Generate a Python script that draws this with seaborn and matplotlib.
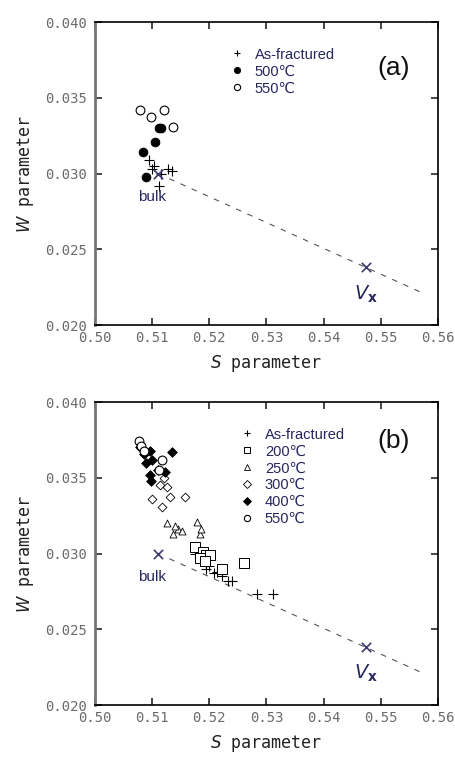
import numpy as np
import pandas as pd
import matplotlib
matplotlib.use("Agg")
import matplotlib.pyplot as plt
from matplotlib.lines import Line2D
import seaborn as sns

# --- panel (a) data: S and W parameters ---
a_asfrac_s = [0.5095, 0.5103, 0.5115, 0.5128, 0.5135, 0.5112, 0.5100]
a_asfrac_w = [0.0309, 0.0305, 0.0300, 0.0303, 0.0302, 0.0292, 0.0303]
a_500_s = [0.5112, 0.5115, 0.5105, 0.5084, 0.5089]
a_500_w = [0.0330, 0.0330, 0.0321, 0.0314, 0.0298]
a_550_s = [0.5079, 0.5098, 0.5121, 0.5137]
a_550_w = [0.0342, 0.0337, 0.0342, 0.0331]

# --- panel (b) data ---
b_asfrac_s = [0.5175, 0.5185, 0.5195, 0.5200, 0.5208, 0.5213, 0.5223, 0.5232, 0.5240, 0.5284, 0.5312]
b_asfrac_w = [0.0300, 0.0295, 0.0290, 0.0292, 0.0287, 0.0288, 0.0285, 0.0282, 0.0282, 0.0273, 0.0273]
b_200_s = [0.5175, 0.5189, 0.5195, 0.5202, 0.5183, 0.5223, 0.5260, 0.5192]
b_200_w = [0.0304, 0.0301, 0.0299, 0.0299, 0.0297, 0.0290, 0.0294, 0.0295]
b_250_s = [0.5126, 0.5137, 0.5145, 0.5152, 0.5179, 0.5183, 0.5186, 0.5140]
b_250_w = [0.0320, 0.0313, 0.0316, 0.0315, 0.0321, 0.0313, 0.0316, 0.0318]
b_300_s = [0.5100, 0.5118, 0.5158, 0.5114, 0.5126, 0.5132, 0.5120]
b_300_w = [0.0336, 0.0331, 0.0337, 0.0345, 0.0344, 0.0337, 0.0350]
b_400_s = [0.5079, 0.5086, 0.5096, 0.5100, 0.5135, 0.5096, 0.5111, 0.5123, 0.5098, 0.5090]
b_400_w = [0.0370, 0.0366, 0.0368, 0.0362, 0.0367, 0.0352, 0.0355, 0.0354, 0.0348, 0.0360]
b_550_s = [0.5077, 0.5080, 0.5085, 0.5118, 0.5112]
b_550_w = [0.0374, 0.0371, 0.0368, 0.0362, 0.0355]

# reference points
bulk = (0.511, 0.0300)
vx = (0.5474, 0.0238)
line_end_s = 0.557

x_ticks = [0.50, 0.51, 0.52, 0.53, 0.54, 0.55, 0.56]
y_ticks = [0.020, 0.025, 0.030, 0.035, 0.040]

navy = "#262660"
tick_gray = "#6a6a6a"

sns.set_style("white")
plt.rcParams["font.family"] = ["Liberation Sans", "DejaVu Sans"]

# marker styles per series: (marker, size, facecolor, linewidth)
styles = {
    "As-fractured": ("+", 55, "black", 0.8),
    "500℃": ("o", 40, "black", 0.6),
    "550℃": ("o", 40, "white", 0.8),
    "200℃": ("s", 50, "white", 0.7),
    "250℃": ("^", 25, "white", 0.6),
    "300℃": ("D", 20, "white", 0.6),
    "400℃": ("D", 24, "black", 0.6),
}

panel_a = [("As-fractured", a_asfrac_s, a_asfrac_w),
           ("500℃", a_500_s, a_500_w),
           ("550℃", a_550_s, a_550_w)]
panel_b = [("As-fractured", b_asfrac_s, b_asfrac_w),
           ("200℃", b_200_s, b_200_w),
           ("250℃", b_250_s, b_250_w),
           ("300℃", b_300_s, b_300_w),
           ("400℃", b_400_s, b_400_w),
           ("550℃", b_550_s, b_550_w)]

fig = plt.figure(figsize=(4.55, 7.58), dpi=100)
ax_a = fig.add_axes([0.2088, 0.5712, 0.7538, 0.3997])
ax_b = fig.add_axes([0.2088, 0.0699, 0.7538, 0.3997])


def draw_panel(ax, series, label, legend_xy, label_xy):
    # dashed line from bulk through Vx
    slope = (vx[1] - bulk[1]) / (vx[0] - bulk[0])
    ls = np.array([bulk[0] + 0.002, line_end_s])
    ax.plot(ls, bulk[1] + slope * (ls - bulk[0]), ls=(0, (5, 6)),
            color="#555555", lw=0.8, zorder=1)

    handles = []
    for name, s, w in series:
        mk, size, fc, lw = styles[name]
        df = pd.DataFrame({"S": s, "W": w})
        if mk == "+":
            sns.scatterplot(data=df, x="S", y="W", ax=ax, marker="+", s=size,
                            color="black", linewidth=lw, zorder=3)
        else:
            sns.scatterplot(data=df, x="S", y="W", ax=ax, marker=mk, s=size,
                            facecolor=fc, edgecolor="black", linewidth=lw, zorder=3)
        handles.append(Line2D([], [], ls="none", marker=mk, markersize=4.5,
                              markerfacecolor=fc, markeredgecolor="black",
                              color="black", markeredgewidth=lw, label=name))

    # bulk and Vx markers
    ax.scatter([bulk[0], vx[0]], [bulk[1], vx[1]], marker="x", s=45,
               color="#3a3a70", linewidth=1.2, zorder=4)
    ax.annotate("bulk", bulk, xytext=(-4, -17), textcoords="offset points",
                ha="center", va="center", fontsize=11, color=navy)
    ax.annotate(r"$V_\mathbf{x}$", vx, xytext=(0, -19), textcoords="offset points",
                ha="center", va="center", fontsize=14, color=navy)

    leg = ax.legend(handles=handles, loc="upper left", bbox_to_anchor=legend_xy,
                    frameon=False, fontsize=10.5, handlelength=0.8,
                    handletextpad=0.8, labelspacing=0.2, borderaxespad=0)
    for t in leg.get_texts():
        t.set_color(navy)
    ax.text(label_xy[0], label_xy[1], label, transform=ax.transAxes,
            fontsize=19, ha="center", va="center", color="#111111")

    ax.set_xlim(0.50, 0.56)
    ax.set_ylim(0.020, 0.040)
    ax.set_xticks(x_ticks)
    ax.set_yticks(y_ticks)
    ax.set_xticklabels([f"{v:.2f}" for v in x_ticks],
                       family="DejaVu Sans Mono", fontsize=10, color=tick_gray)
    ax.set_yticklabels([f"{v:.3f}" for v in y_ticks],
                       family="DejaVu Sans Mono", fontsize=10, color=tick_gray)
    ax.tick_params(direction="in", length=5, width=1.2, top=True, right=True,
                   bottom=True, left=True)
    ax.tick_params(axis="y", pad=6)
    ax.tick_params(axis="x", pad=4)
    ax.set_xlabel(r"$\mathit{S}$ parameter", family="DejaVu Sans Mono",
                  fontsize=12, labelpad=6, color="#222222")
    ax.set_ylabel(r"$\mathit{W}$ parameter", family="DejaVu Sans Mono",
                  fontsize=12, labelpad=6, color="#222222")
    for side in ["top", "right", "bottom"]:
        ax.spines[side].set_color("black")
        ax.spines[side].set_linewidth(1.2)
    ax.spines["left"].set_color("#777777")
    ax.spines["left"].set_linewidth(2)


draw_panel(ax_a, panel_a, "(a)", (0.38, 0.935), (0.87, 0.85))
draw_panel(ax_b, panel_b, "(b)", (0.41, 0.935), (0.87, 0.87))

fig.savefig("out.png", dpi=100)
